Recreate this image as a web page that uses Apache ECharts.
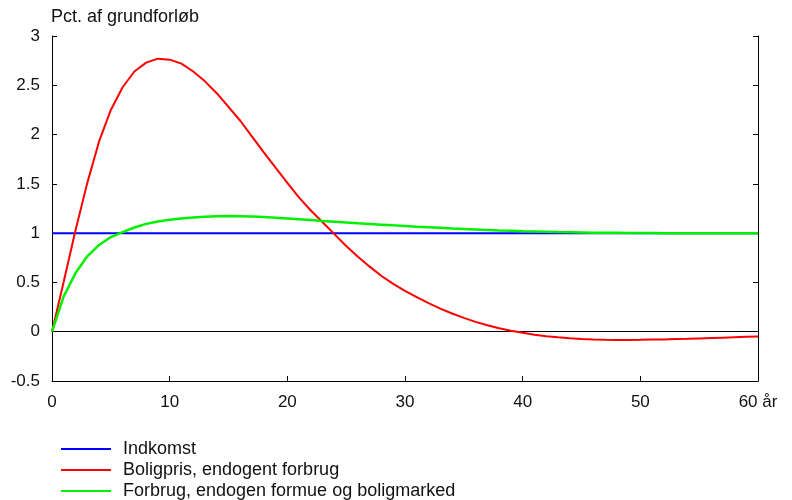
<!DOCTYPE html>
<html>
<head>
<meta charset="utf-8">
<script src="https://cdn.jsdelivr.net/npm/echarts@6/dist/echarts.min.js"></script>
<style>
  html, body { margin: 0; padding: 0; background: #fff; }
  #chart { width: 792px; height: 500px; }
</style>
</head>
<body>
<div id="chart"></div>
<script>
// År efter stødet
const years = [0,1,2,3,4,5,6,7,8,9,10,11,12,13,14,15,16,17,18,19,20,
  21,22,23,24,25,26,27,28,29,30,31,32,33,34,35,36,37,38,39,40,
  41,42,43,44,45,46,47,48,49,50,51,52,53,54,55,56,57,58,59,60];

// Indkomst (pct. af grundforløb)
const indkomst = [1,1,1,1,1,1,1,1,1,1,1,1,1,1,1,1,1,1,1,1,1,
  1,1,1,1,1,1,1,1,1,1,1,1,1,1,1,1,1,1,1,1,
  1,1,1,1,1,1,1,1,1,1,1,1,1,1,1,1,1,1,1,1];

// Boligpris, endogent forbrug
const boligpris = [0,0.51,1.03,1.51,1.93,2.25,2.48,2.64,2.73,2.77,2.76,
  2.72,2.64,2.54,2.42,2.28,2.14,1.98,1.82,1.665,1.51,
  1.36,1.23,1.11,0.99,0.87,0.76,0.66,0.565,0.485,0.415,
  0.35,0.29,0.235,0.185,0.14,0.10,0.065,0.035,0.01,-0.01,
  -0.03,-0.045,-0.057,-0.066,-0.073,-0.078,-0.081,-0.083,-0.083,-0.082,
  -0.08,-0.078,-0.075,-0.072,-0.068,-0.064,-0.06,-0.056,-0.052,-0.048];

// Forbrug, endogen formue og boligmarked
const forbrug = [0,0.36,0.595,0.765,0.88,0.96,1.01,1.057,1.094,1.118,1.135,
  1.148,1.158,1.166,1.172,1.174,1.172,1.168,1.163,1.156,1.149,
  1.141,1.133,1.124,1.116,1.108,1.1,1.093,1.086,1.079,1.073,
  1.066,1.06,1.054,1.048,1.043,1.038,1.033,1.028,1.024,1.02,
  1.017,1.014,1.011,1.009,1.007,1.005,1.004,1.003,1.002,1.001,
  1.001,1,1,1,1,1,1,1,1,1];

const seriesNames = ['Indkomst', 'Boligpris, endogent forbrug', 'Forbrug, endogen formue og boligmarked'];
const yTicks = { min: -0.5, max: 3, interval: 0.5 };
const xTicks = { min: 0, max: 60, interval: 10 };

const FONT = '"Liberation Sans", Arial, sans-serif';
const TEXT = '#111';
const pairs = vals => years.map((t, i) => [t, vals[i]]);

const chart = echarts.init(document.getElementById('chart'), null, { renderer: 'canvas' });

const axisLine = { show: true, onZero: false, lineStyle: { color: '#000', width: 1 } };
const axisTick = { show: true, inside: true, length: 5, lineStyle: { color: '#000', width: 1 } };

chart.setOption({
  animation: false,
  backgroundColor: '#fff',
  title: {
    text: 'Pct. af grundforløb',
    left: 46, top: 3,
    textStyle: { fontFamily: FONT, fontSize: 18, fontWeight: 'normal', color: TEXT }
  },
  legend: {
    orient: 'vertical',
    left: 56, top: 434, height: 120,
    itemWidth: 50, itemHeight: 14, itemGap: 1,
    icon: 'path://M0,0 L50,0 L50,2 L0,2 Z',
    textStyle: { fontFamily: FONT, fontSize: 18, lineHeight: 20, color: TEXT, padding: [0, 0, 0, 7] },
    data: seriesNames
  },
  grid: { left: 52, right: 34, top: 36, bottom: 119, containLabel: false },
  xAxis: {
    type: 'value',
    min: xTicks.min, max: xTicks.max, interval: xTicks.interval,
    axisLine: axisLine,
    axisTick: axisTick,
    splitLine: { show: false },
    axisLabel: {
      fontFamily: FONT, fontSize: 17, color: TEXT, margin: 13,
      formatter: v => v === 60 ? '60 år' : String(v)
    }
  },
  yAxis: [
    {
      type: 'value', position: 'left',
      min: yTicks.min, max: yTicks.max, interval: yTicks.interval,
      axisLine: axisLine,
      axisTick: axisTick,
      splitLine: { show: false },
      axisLabel: { fontFamily: FONT, fontSize: 17, color: TEXT, margin: 12 }
    },
    {
      type: 'value', position: 'right',
      min: yTicks.min, max: yTicks.max, interval: yTicks.interval,
      axisLine: axisLine,
      axisTick: axisTick,
      splitLine: { show: false },
      axisLabel: { show: false }
    }
  ],
  series: [
    {
      name: seriesNames[0], type: 'line', data: pairs(indkomst),
      symbol: 'none', color: '#0000ff', lineStyle: { width: 2 }, z: 3,
      markLine: {
        silent: true, symbol: 'none', label: { show: false },
        lineStyle: { color: '#000', width: 1, type: 'solid' },
        data: [{ yAxis: 0 }], z: 1
      }
    },
    {
      name: seriesNames[1], type: 'line', data: pairs(boligpris),
      symbol: 'none', color: '#ff0000', lineStyle: { width: 2 }, z: 4
    },
    {
      name: seriesNames[2], type: 'line', data: pairs(forbrug),
      symbol: 'none', color: '#00f000', lineStyle: { width: 2.5 }, z: 5
    }
  ]
});
</script>
</body>
</html>
